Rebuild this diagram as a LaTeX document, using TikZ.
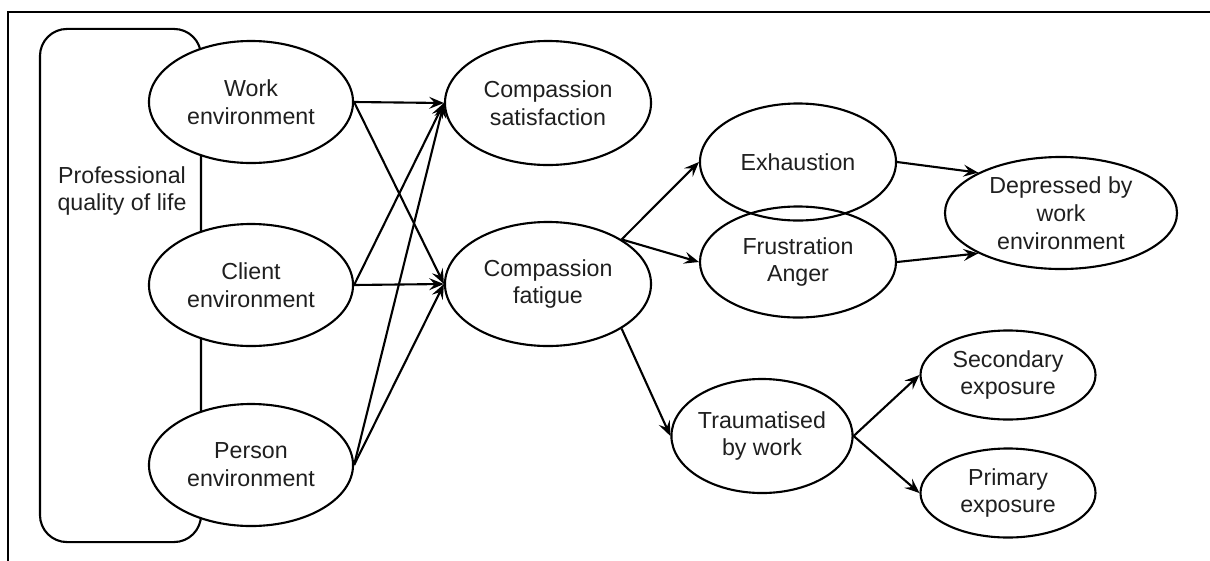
\documentclass[tikz,border=0pt]{standalone}
\usepackage{fontspec}
\setmainfont{Liberation Sans}
\usetikzlibrary{arrows.meta, shapes.geometric}

\tikzset{
  px/.style={x=0.025cm, y=-0.025cm},
  txt/.style={align=center, inner sep=0pt, text=black!88, font=\fontsize{16.5}{19.8}\selectfont},
  blob/.style={txt, ellipse, draw, line width=1.5pt},
  envblob/.style={blob, fill=white, minimum width=5.1cm, minimum height=3.05cm},
  compblob/.style={blob, minimum width=5.15cm, minimum height=3.1cm},
  expblob/.style={blob, minimum width=4.375cm, minimum height=2.225cm},
  link/.style={-{Stealth[length=10.5pt, width=8.5pt, inset=4pt]}, line width=1.5pt},
}

\begin{document}
\begin{tikzpicture}[px]
  \clip (0,0) rectangle (1210,560);
  % outer frame, cut by the page edge
  \draw[line width=1.5pt] (8,12) rectangle (1250,600);

  % group box on the left
  \node[draw, line width=1.5pt, rounded corners=0.675cm, minimum width=4.025cm, minimum height=12.825cm] (pqlbox) at (120.5,285.5) {};
  \node[txt] (pql) at (122,191) {Professional\\quality of life};

  % environments
  \node[envblob] (work) at (251,102) {Work\\environment};
  \node[envblob] (client) at (251,285) {Client\\environment};
  \node[envblob] (person) at (251,465) {Person\\environment};

  % compassion
  \node[compblob] (cs) at (548,103) {Compassion\\satisfaction};
  \node[compblob] (cf) at (548,284) {Compassion\\fatigue};

  % burnout side
  \node[blob, minimum width=4.9cm, minimum height=2.925cm] (exh) at (798,162) {Exhaustion};
  \node[blob, minimum width=4.9cm, minimum height=2.775cm] (fru) at (798,262) {Frustration\\Anger};
  \node[blob, minimum width=5.8cm, minimum height=2.8cm] (dep) at (1061,213) {Depressed by\\work\\environment};

  % trauma side
  \node[blob, minimum width=4.325cm, minimum height=2.85cm] (tra) at (762,436) {Traumatised\\by work};
  \node[expblob] (sec) at (1008,375) {Secondary\\exposure};
  \node[expblob] (pri) at (1008,493) {Primary\\exposure};

  \draw[link] (work.east) -- (cs.west);
  \draw[link] (work.east) -- (cf.west);
  \draw[link] (client.east) -- (cs.west);
  \draw[link] (client.east) -- (cf.west);
  \draw[link] (person.east) -- (cs.west);
  \draw[link] (person.east) -- (cf.west);

  \draw[link] (cf.north east) -- (exh.west);
  \draw[link] (cf.north east) -- (fru.west);
  \draw[link] (cf.south east) -- (tra.west);

  \draw[link] (exh.east) -- (dep.154);
  \draw[link] (fru.east) -- (dep.206);
  \draw[link] (tra.east) -- (sec.west);
  \draw[link] (tra.east) -- (pri.west);
\end{tikzpicture}
\end{document}
